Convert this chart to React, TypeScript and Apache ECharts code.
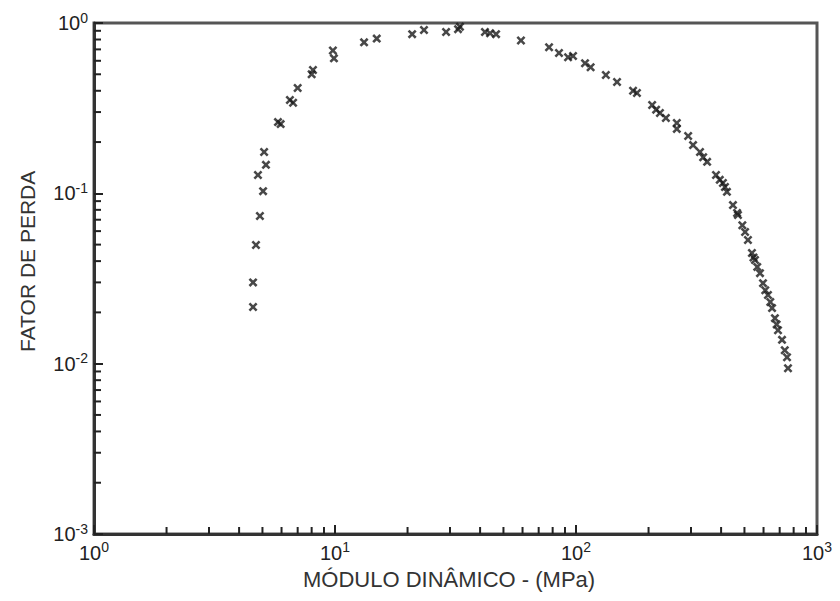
import React, { useEffect, useRef } from 'react';
import * as echarts from 'echarts';

const modulus = [
  4.57, 4.57, 4.7, 4.88, 5.03, 4.79, 5.17, 5.08, 5.8, 5.95,
  6.5, 6.7, 7.0, 8.1, 8.0, 9.8, 9.9, 13.2, 14.9, 20.9,
  23.4, 28.9, 32.4, 33.0, 41.9, 44.0, 46.6, 59.1, 77.3, 85,
  92.7, 97.2, 109, 115, 133, 148, 172.5, 179, 207, 215,
  223, 236, 262, 262, 292, 306, 327, 337, 350, 381,
  395, 407, 415, 423, 448, 466, 470, 490, 503, 517,
  537, 545, 553, 565, 580, 597, 610, 626, 640, 651,
  669, 680, 689, 716, 735, 751, 758,
];

const lossFactor = [
  0.0215, 0.03, 0.0497, 0.0736, 0.103, 0.128, 0.147, 0.175, 0.262, 0.255,
  0.353, 0.34, 0.415, 0.53, 0.5, 0.69, 0.62, 0.77, 0.81, 0.86,
  0.91, 0.885, 0.92, 0.95, 0.885, 0.87, 0.86, 0.79, 0.72, 0.667,
  0.63, 0.64, 0.58, 0.55, 0.495, 0.45, 0.4, 0.388, 0.33, 0.31,
  0.296, 0.277, 0.259, 0.239, 0.217, 0.192, 0.175, 0.163, 0.153, 0.128,
  0.12, 0.115, 0.109, 0.102, 0.0853, 0.0766, 0.0746, 0.065, 0.0593, 0.0532,
  0.0446, 0.042, 0.0406, 0.037, 0.034, 0.0297, 0.027, 0.0253, 0.023, 0.0212,
  0.0185, 0.017, 0.0157, 0.0138, 0.012, 0.0109, 0.0094,
];

const xMinorTicks = [2, 3, 4, 5, 6, 7, 8, 9, 20, 30, 40, 50, 60, 70, 80, 90, 200, 300, 400, 500, 600, 700, 800, 900];
const yMinorTicks = [
  0.002, 0.003, 0.004, 0.005, 0.006, 0.007, 0.008, 0.009,
  0.02, 0.03, 0.04, 0.05, 0.06, 0.07, 0.08, 0.09,
  0.2, 0.3, 0.4, 0.5, 0.6, 0.7, 0.8, 0.9,
];

const xMin = 1;
const xMax = 1000;
const yMin = 0.001;
const yMax = 1;

export default function App() {
  const ref = useRef<HTMLDivElement>(null);
  useEffect(() => {
    const chart = echarts.init(ref.current!, null, { renderer: 'svg' });
    const fmt = (v: number) => `{b|10}{s|${Math.round(Math.log10(v))}}`;
    const rich = {
      b: { fontSize: 20, fontFamily: 'Liberation Sans', color: '#222' },
      s: { fontSize: 14, fontFamily: 'Liberation Sans', color: '#222', padding: [0, 0, 11, 0] },
    };
    const tickColor = '#222';
    chart.setOption({
      animation: false,
      backgroundColor: '#fff',
      grid: {
        left: 94,
        top: 23,
        right: 23,
        bottom: 67,
        show: true,
        borderColor: '#555',
        borderWidth: 3,
      },
      graphic: [
        {
          type: 'text',
          left: 303,
          top: 568,
          style: {
            text: 'MÓDULO DINÂMICO - (MPa)',
            fontSize: 22,
            fontFamily: 'Liberation Sans',
            fill: '#333',
          },
        },
        {
          type: 'text',
          x: 17,
          y: 352,
          rotation: Math.PI / 2,
          style: {
            text: 'FATOR DE PERDA',
            fontSize: 21,
            fontFamily: 'Liberation Sans',
            fill: '#333',
          },
        },
      ],
      xAxis: {
        type: 'log',
        logBase: 10,
        min: xMin,
        max: xMax,
        axisLine: { lineStyle: { color: '#333', width: 3 } },
        axisTick: { show: true, inside: true, length: 9, lineStyle: { color: tickColor, width: 2 } },
        axisLabel: { formatter: fmt, rich, margin: 6 },
        splitLine: { show: false },
      },
      yAxis: {
        type: 'log',
        logBase: 10,
        min: yMin,
        max: yMax,
        axisLine: { lineStyle: { color: '#333', width: 3 } },
        axisTick: { show: true, inside: true, length: 9, lineStyle: { color: tickColor, width: 2 } },
        axisLabel: { formatter: fmt, rich, margin: 6 },
        splitLine: { show: false },
      },
      series: [
        {
          type: 'custom',
          silent: true,
          clip: false,
          data: xMinorTicks.map((v) => [v, yMin]),
          encode: { x: 0, y: 1 },
          renderItem: (params: any, api: any) => {
            const p = api.coord([api.value(0), api.value(1)]);
            return {
              type: 'line',
              shape: { x1: p[0], y1: p[1], x2: p[0], y2: p[1] - 7 },
              style: { stroke: tickColor, lineWidth: 2 },
            };
          },
          z: 5,
        },
        {
          type: 'custom',
          silent: true,
          clip: false,
          data: yMinorTicks.map((v) => [xMin, v]),
          encode: { x: 0, y: 1 },
          renderItem: (params: any, api: any) => {
            const p = api.coord([api.value(0), api.value(1)]);
            return {
              type: 'line',
              shape: { x1: p[0], y1: p[1], x2: p[0] + 7, y2: p[1] },
              style: { stroke: tickColor, lineWidth: 2 },
            };
          },
          z: 5,
        },
        {
          type: 'scatter',
          data: modulus.map((m, i) => [m, lossFactor[i]]),
          symbol: 'path://M0,2L2,0L5,3L8,0L10,2L7,5L10,8L8,10L5,7L2,10L0,8L3,5Z',
          symbolSize: 9,
          itemStyle: { color: '#1a1a1a' },
          z: 3,
        },
      ],
    });
    return () => chart.dispose();
  }, []);
  return <div ref={ref} style={{ position: 'fixed', left: 0, top: 0, width: 840, height: 601 }} />;
}
